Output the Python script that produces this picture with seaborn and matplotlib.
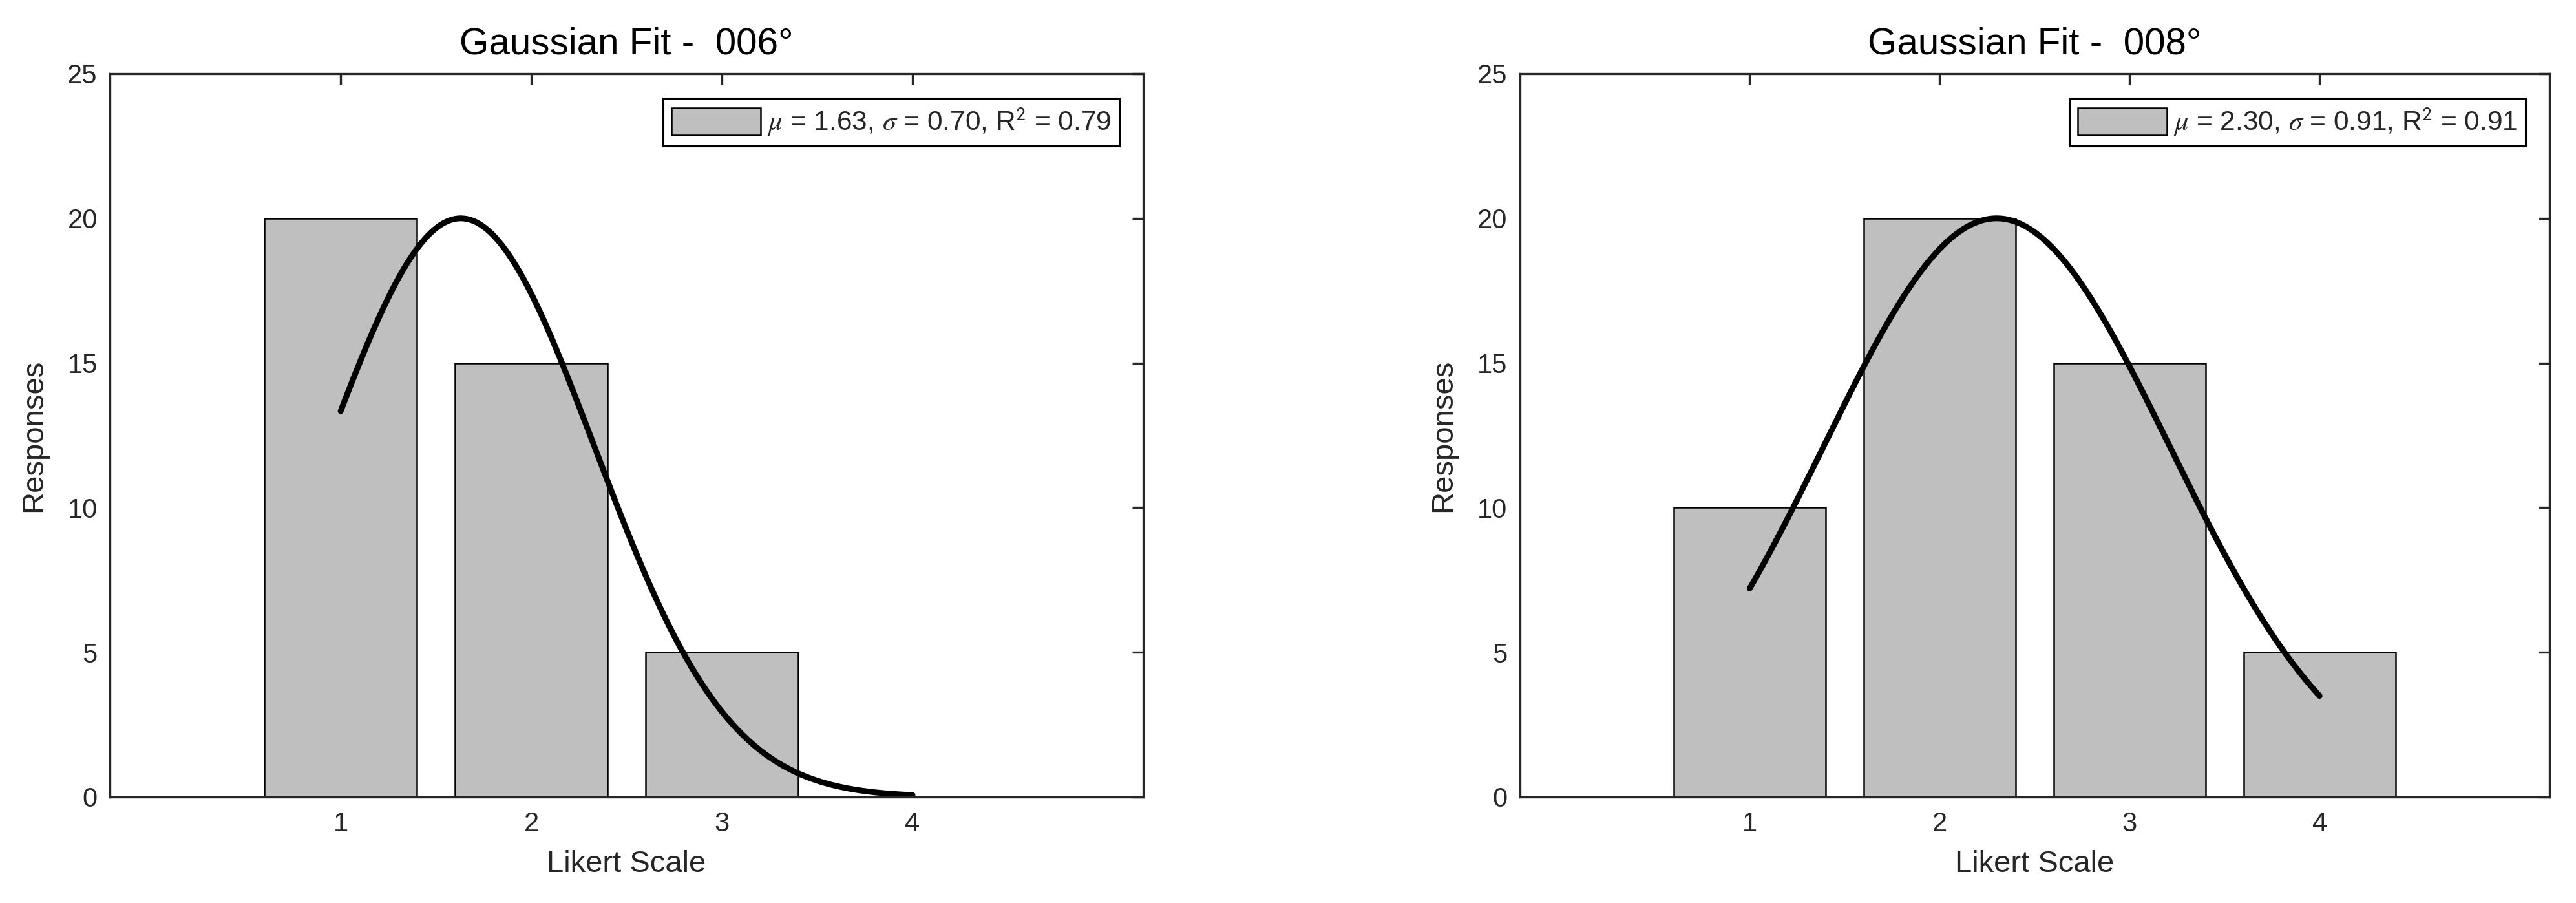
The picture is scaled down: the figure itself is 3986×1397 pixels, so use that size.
import numpy as np
import pandas as pd
import seaborn as sns
import matplotlib.pyplot as plt

# data
likert = [1, 2, 3, 4]
counts_006 = [20, 15, 5, 0]
counts_008 = [10, 20, 15, 5]

# fitted gaussian parameters (from the legends)
peak = [20, 20]
mu = [1.63, 2.30]
sigma = [0.70, 0.91]
r2 = [0.79, 0.91]
titles = ['Gaussian Fit -  006\u00b0', 'Gaussian Fit -  008\u00b0']

sns.set_style('white')
plt.rcParams['font.family'] = ['Liberation Sans', 'DejaVu Sans']
plt.rcParams['mathtext.fontset'] = 'stix'

fig = plt.figure(figsize=(39.86, 13.97), dpi=100)
ax1 = fig.add_axes([0.0427, 0.1174, 0.4011, 0.8010])
ax2 = fig.add_axes([0.5900, 0.1174, 0.3997, 0.8010])

spine_col = '#262626'

for i, (ax, counts) in enumerate(zip([ax1, ax2], [counts_006, counts_008])):
    df = pd.DataFrame({'Likert': likert, 'Responses': counts})
    sns.barplot(data=df, x='Likert', y='Responses', native_scale=True, width=0.8,
                color='#bfbfbf', saturation=1, edgecolor='black', linewidth=1.8, ax=ax)

    # fitted curve
    xs = np.linspace(likert[0], likert[-1], 200)
    ys = peak[i] * np.exp(-(xs - mu[i]) ** 2 / (2 * sigma[i] ** 2))
    sns.lineplot(x=xs, y=ys, color='black', linewidth=6.5, ax=ax)

    ax.set_xlim(-0.21, 5.21)
    ax.set_ylim(0, 25)
    ax.set_xticks([1, 2, 3, 4])
    ax.set_yticks([0, 5, 10, 15, 20, 25])
    ax.tick_params(direction='in', length=12, width=2.4, color=spine_col,
                   labelsize=30, labelcolor=spine_col, top=True, right=True)
    ax.tick_params(axis='y', pad=14)
    ax.tick_params(axis='x', pad=16)
    for s in ax.spines.values():
        s.set_visible(True)
        s.set_color(spine_col)
        s.set_linewidth(2.4)
    ax.set_xlabel('Likert Scale', fontsize=34, color=spine_col, labelpad=14)
    ax.set_ylabel('Responses', fontsize=34, color=spine_col, labelpad=22)
    ax.set_title(titles[i], fontsize=42, color='black', pad=22)

    lab = (r'$\mu$ = %.2f, $\sigma$ = %.2f, R$^{\mathsf{2}}$ = %.2f'
           % (mu[i], sigma[i], r2[i]))
    leg = ax.legend([ax.patches[0]], [lab], loc='upper right',
                    bbox_to_anchor=(0.977, 0.966), borderaxespad=0,
                    fontsize=30.5, fancybox=False, framealpha=1, edgecolor='black',
                    handlelength=3.25, handleheight=1.15, handletextpad=0.25,
                    borderpad=0.3)
    leg.get_frame().set_linewidth(2.2)

fig.savefig('out.png', dpi=100)
